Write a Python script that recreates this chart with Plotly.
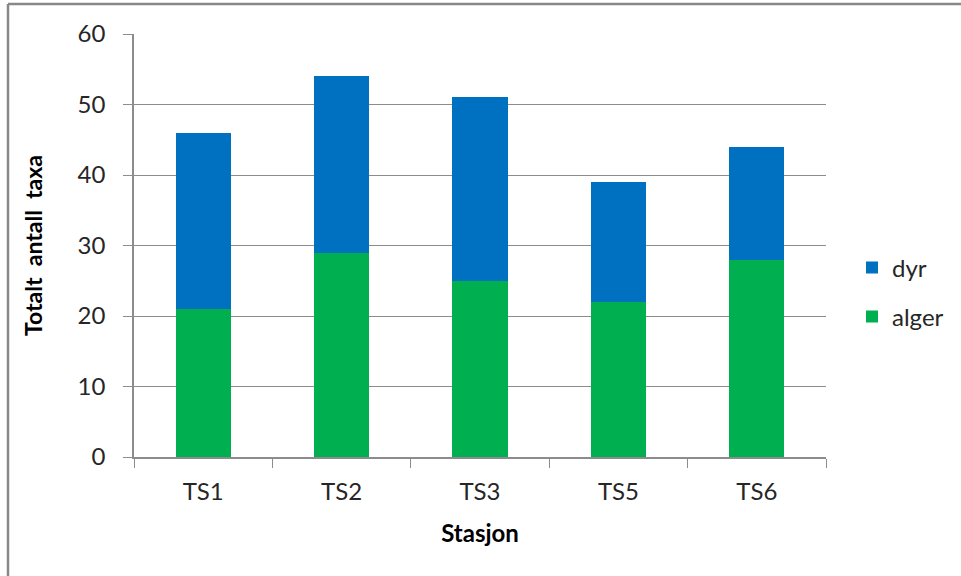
import plotly.graph_objects as go

# Stations and taxa counts per group
stations = ["TS1", "TS2", "TS3", "TS5", "TS6"]
alger = [21, 29, 25, 22, 28]
dyr = [25, 25, 26, 17, 16]
y_ticks = [0, 10, 20, 30, 40, 50, 60]

W, H = 961, 576
L, R, T, B = 134, 135, 34, 119

font_family = "Lato, Carlito, Open Sans, sans-serif"
grid_col = "#8c8c8c"
text_col = "#262626"

fig = go.Figure()
fig.add_trace(go.Bar(x=stations, y=alger, name="alger", marker_color="#00B050",
                     marker_line_width=0, legend="legend2"))
fig.add_trace(go.Bar(x=stations, y=dyr, name="dyr", marker_color="#0070C0",
                     marker_line_width=0, legend="legend"))

pw = W - L - R
ph = H - T - B


def px_x(x):
    return (x - L) / pw


def px_y(y):
    return (H - B - y) / ph


legend_style = dict(font=dict(family=font_family, size=24, color=text_col),
                    bgcolor="rgba(0,0,0,0)", xanchor="left", yanchor="middle",
                    itemwidth=30)

fig.update_layout(
    width=W, height=H,
    margin=dict(l=L, r=R, t=T, b=B, pad=0),
    paper_bgcolor="white", plot_bgcolor="white",
    barmode="stack", bargap=0.6,
    font=dict(family=font_family, size=24, color=text_col),
    showlegend=True,
    legend=dict(x=px_x(852), y=px_y(268), **legend_style),
    legend2=dict(x=px_x(852), y=px_y(317), **legend_style),
    xaxis=dict(
        type="category", showgrid=False,
        showline=True, linecolor=grid_col, linewidth=1.5,
        ticks="outside", tickson="boundaries", ticklen=9, tickcolor=grid_col,
        ticklabelstandoff=12,
        tickfont=dict(size=24, color=text_col),
        title=dict(text="<b>Stasjon</b>", font=dict(size=24, color="#000000"), standoff=22),
    ),
    yaxis=dict(
        range=[0, 60], tickvals=y_ticks, showgrid=True, gridcolor=grid_col, gridwidth=1,
        showline=True, linecolor=grid_col, linewidth=1.5, zeroline=False,
        ticks="outside", ticklen=9, tickcolor=grid_col,
        ticklabelstandoff=13,
        tickfont=dict(size=24, color=text_col),
        title=dict(text="<b>Totalt&nbsp; antall&nbsp; taxa</b>",
                   font=dict(size=23, color="#000000"), standoff=29),
    ),
    shapes=[
        dict(type="line", xref="paper", yref="paper",
             x0=px_x(8), x1=px_x(W + 5), y0=px_y(4), y1=px_y(4),
             line=dict(color="#888888", width=2.5)),
        dict(type="line", xref="paper", yref="paper",
             x0=px_x(8), x1=px_x(8), y0=px_y(4), y1=px_y(H + 5),
             line=dict(color="#888888", width=2.5)),
    ],
)

fig.write_html("out.html")
